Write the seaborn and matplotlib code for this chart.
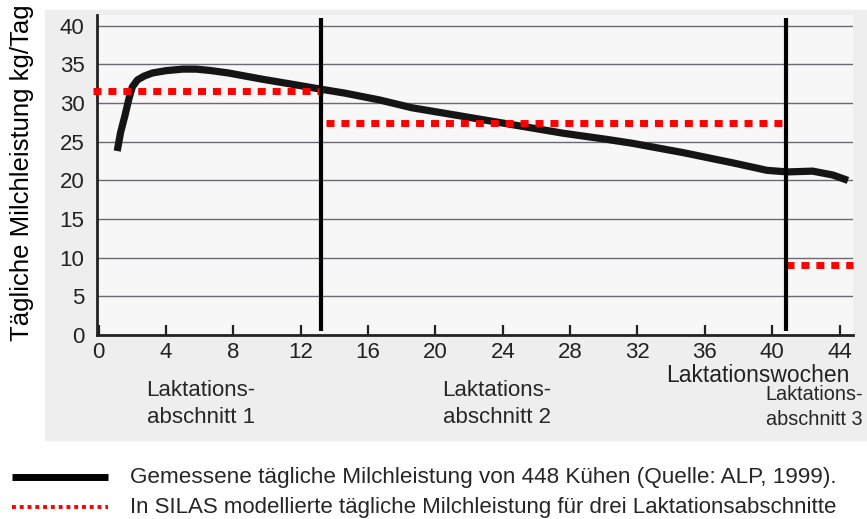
import numpy as np
import pandas as pd
import matplotlib
matplotlib.use("Agg")
import matplotlib.pyplot as plt
import seaborn as sns
from matplotlib.lines import Line2D
from matplotlib.patches import Rectangle

# ---- data ----
weeks = [1.1, 1.3, 1.55, 1.8, 2.0, 2.3, 2.7, 3.2, 4.0, 5.0, 5.8, 6.7, 7.7, 9.7,
         11.6, 13.2, 14.6, 16.7, 18.6, 21.6, 24.6, 27.6, 30.2, 31.7, 34.7, 37.6,
         39.7, 40.9, 42.4, 43.6, 44.5]
milk = [23.8, 26.2, 28.3, 30.6, 32.1, 33.0, 33.5, 33.9, 34.2, 34.4, 34.4, 34.2,
        33.9, 33.1, 32.4, 31.8, 31.3, 30.4, 29.4, 28.3, 27.2, 26.1, 25.3, 24.8,
        23.6, 22.3, 21.3, 21.1, 21.2, 20.7, 20.0]
seg_start = [-0.36, 13.5, 40.85]
seg_end = [13.3, 40.85, 44.8]
seg_value = [31.6, 27.4, 9.0]
boundaries = [13.2, 40.8]
section_labels = ["Laktations-\nabschnitt 1", "Laktations-\nabschnitt 2", "Laktations-\nabschnitt 3"]
xticks = list(range(0, 45, 4))
yticks = list(range(0, 41, 5))
legend_labels = ["Gemessene tägliche Milchleistung von 448 Kühen (Quelle: ALP, 1999).",
                 "In SILAS modellierte tägliche Milchleistung für drei Laktationsabschnitte"]

sns.set_theme(style="white")
plt.rcParams['font.family'] = ['Liberation Sans', 'DejaVu Sans']

W, H = 867, 519
fig = plt.figure(figsize=(W / 100, H / 100), dpi=100)
fig.patch.set_facecolor('white')
bg = Rectangle((45 / W, 1 - 440 / H), 1 - 45 / W, (440 - 10) / H,
               transform=fig.transFigure, color='#eeeeee', zorder=-10)
fig.add_artist(bg)

ax = fig.add_axes([97 / W, 1 - 335 / H, (853 - 97) / W, (335 - 15) / H])
ax.set_zorder(1)
ax.set_facecolor('#f7f7f7')
ax.set_xlim(-0.1, 44.8)
ax.set_ylim(0, 41.4)

for y in yticks[1:]:
    ax.plot([-0.1, 44.8], [y, y], color='#6a6a70', lw=1.0, zorder=1)

df = pd.DataFrame({"Woche": weeks, "Milch": milk})
sns.lineplot(data=df, x="Woche", y="Milch", ax=ax, color='#151515', lw=5.2,
             zorder=4, solid_capstyle='butt', solid_joinstyle='round')

for xs, xe, v in zip(seg_start, seg_end, seg_value):
    ax.plot([xs, xe], [v, v], color='#ff0000', lw=5.0, linestyle=(0, (1.15, 1.0)),
            dash_capstyle='butt', zorder=5, clip_on=False)

for b in boundaries:
    ax.vlines(b, 0.5, 41.0, color='black', lw=3.0, zorder=6, clip_on=False)

ax.set_xticks(xticks)
ax.set_yticks(yticks)
ax.tick_params(axis='x', direction='in', length=7, width=1.6, color='#222222',
               labelsize=16, pad=5, labelcolor='#222222', bottom=True)
ax.tick_params(axis='y', length=0, labelsize=16, pad=9, labelcolor='#222222')
for s in ['top', 'right']:
    ax.spines[s].set_visible(False)
for s in ['left', 'bottom']:
    ax.spines[s].set_color('#222222')
    ax.spines[s].set_linewidth(2.0)
ax.set_xlabel("")
ax.set_ylabel("")

fig.text(22 / W, 1 - 173 / H, "Tägliche Milchleistung kg/Tag", rotation=90,
         ha='center', va='center', fontsize=18.5, color='black')
fig.text(850 / W, 1 - 375 / H, "Laktationswochen", ha='right', va='center',
         fontsize=16.5, color='#222222')

fig.text(201 / W, 1 - 404 / H, section_labels[0], ha='center', va='center',
         fontsize=16, linespacing=1.4)
fig.text(497 / W, 1 - 404 / H, section_labels[1], ha='center', va='center',
         fontsize=16, linespacing=1.4)
fig.text(863 / W, 1 - 407 / H, section_labels[2], ha='right', va='center',
         fontsize=14.3, linespacing=1.45, multialignment='center')

fig.add_artist(Line2D([12 / W, 108 / W], [1 - 477 / H, 1 - 477 / H], color='black',
                      lw=5.0, transform=fig.transFigure, solid_capstyle='butt'))
fig.add_artist(Line2D([12 / W, 108 / W], [1 - 507 / H, 1 - 507 / H], color='#ff0000',
                      lw=2.8, linestyle=(0, (1, 1)), dash_capstyle='butt',
                      transform=fig.transFigure))
fig.text(130 / W, 1 - 477 / H, legend_labels[0], ha='left', va='center',
         fontsize=16.2)
fig.text(130 / W, 1 - 507 / H, legend_labels[1], ha='left', va='center',
         fontsize=16)

fig.savefig("out.png", dpi=100)
